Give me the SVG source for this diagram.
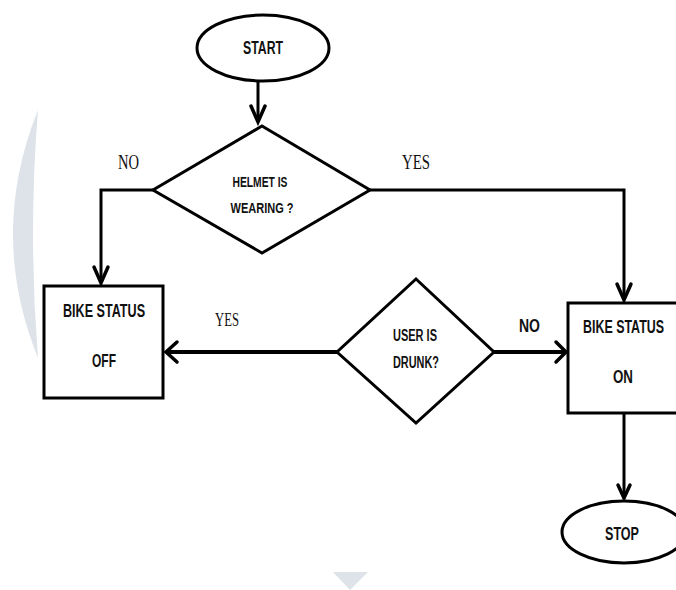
<svg xmlns="http://www.w3.org/2000/svg" width="676" height="590" viewBox="0 0 676 590">
<style>
.shape{fill:#fff;stroke:#000;stroke-width:3}
.conn{fill:none;stroke:#000;stroke-width:3;stroke-linejoin:miter}
.thick{stroke-width:4}
.head{fill:none;stroke:#000;stroke-width:3.5;stroke-linecap:round;stroke-linejoin:miter}
.t{font-family:"Liberation Sans",Arial,sans-serif;font-weight:bold;fill:#111;text-anchor:middle}
.s{font-family:"Liberation Serif","Times New Roman",serif;fill:#111;text-anchor:middle}
.wm{fill:#dde3e8}
</style>
<rect width="676" height="590" fill="#fff"/>
<g id="watermark">
<path class="wm" d="M38,110 Q-12,234 38,358 Q28,234 38,110 Z"/>
<polygon class="wm" points="333,572 368,572 350,590"/>
</g>
<g id="connectors">
<path class="conn" d="M258,81 V122"/>
<path class="head" d="M251,106 L258,122 L265,106"/>
<path class="conn" d="M153,190 H101 V283"/>
<path class="head" d="M94,267 L101,283 L108,267"/>
<path class="conn" d="M370,190 H624 V300"/>
<path class="head" d="M617,284 L624,300 L631,284"/>
<path class="conn thick" d="M337,352 H168"/>
<path class="head" d="M177,342 L166,352 L177,362"/>
<path class="conn thick" d="M494,352 H565"/>
<path class="head" d="M556,342 L566,352 L556,362"/>
<path class="conn" d="M624,413 V498"/>
<path class="head" d="M618,485 L624,498 L630,485"/>
</g>
<g id="start">
<ellipse class="shape" cx="263" cy="48" rx="66" ry="33"/>
<text class="t" x="263" y="54" font-size="19" textLength="40" lengthAdjust="spacingAndGlyphs">START</text>
</g>
<g id="helmet">
<polygon class="shape" points="262,126 370,190 262,253 153,190"/>
<text class="t" x="260" y="187" font-size="14" textLength="55" lengthAdjust="spacingAndGlyphs">HELMET IS</text>
<text class="t" x="262" y="213" font-size="14" textLength="63" lengthAdjust="spacingAndGlyphs">WEARING ?</text>
</g>
<g id="off">
<rect class="shape" x="44" y="286" width="119" height="112"/>
<text class="t" font-size="19" transform="translate(104,317) scale(0.663,1)">BIKE STATUS</text>
<text class="t" x="104" y="367" font-size="19" textLength="24" lengthAdjust="spacingAndGlyphs">OFF</text>
</g>
<g id="drunk">
<polygon class="shape" points="416,279 494,352 416,423 337,352"/>
<text class="t" x="415" y="341" font-size="16" textLength="44" lengthAdjust="spacingAndGlyphs">USER IS</text>
<text class="t" x="416" y="368" font-size="16" textLength="46" lengthAdjust="spacingAndGlyphs">DRUNK?</text>
</g>
<g id="on">
<path class="shape" d="M690,303 H568 V413 H690"/>
<text class="t" font-size="19" transform="translate(623.5,333) scale(0.655,1)">BIKE STATUS</text>
<text class="t" x="623" y="383" font-size="19" textLength="20" lengthAdjust="spacingAndGlyphs">ON</text>
</g>
<g id="stop">
<ellipse class="shape" cx="624" cy="532" rx="62" ry="31"/>
<text class="t" x="622" y="540" font-size="18" textLength="34" lengthAdjust="spacingAndGlyphs">STOP</text>
</g>
<g id="labels">
<text class="s" x="128.5" y="169" font-size="20" textLength="21" lengthAdjust="spacingAndGlyphs">NO</text>
<text class="s" x="416" y="169" font-size="20" textLength="28" lengthAdjust="spacingAndGlyphs">YES</text>
<text class="s" x="227" y="326" font-size="19" textLength="24" lengthAdjust="spacingAndGlyphs">YES</text>
<text class="t" x="529.5" y="332" font-size="19" textLength="21" lengthAdjust="spacingAndGlyphs">NO</text>
</g>
</svg>
